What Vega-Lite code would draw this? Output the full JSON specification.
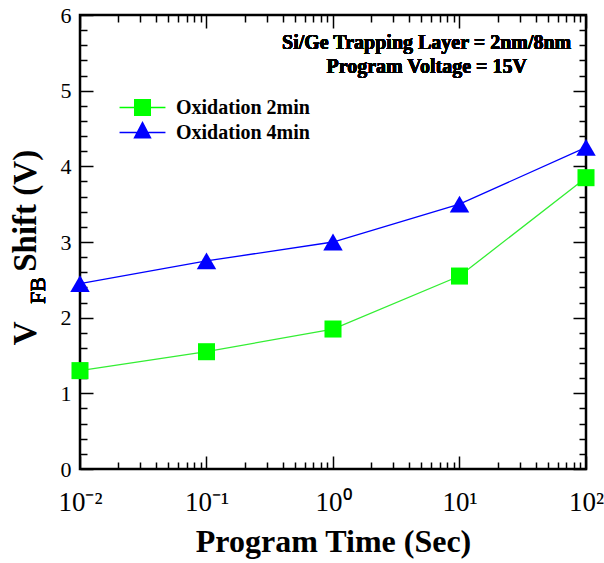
{
  "$schema": "https://vega.github.io/schema/vega-lite/v6.json",
  "autosize": {"type": "none"},
  "padding": {"left": 80, "top": 15, "right": 18, "bottom": 94},
  "width": 506,
  "height": 454,
  "background": "white",
  "config": {
    "view": {"stroke": "black", "strokeWidth": 2.5},
    "axis": {"grid": false, "domain": false, "tickColor": "black", "tickWidth": 1.5, "labelFont": "Liberation Serif", "titleFont": "Liberation Serif", "labelColor": "black", "titleColor": "black", "labelFlush": false, "labelOverlap": false},
    "text": {"font": "Liberation Serif"}
  },
  "data": {"values": [
    {"time": 0.01, "shift": 1.3, "series": "Oxidation 2min"},
    {"time": 0.1, "shift": 1.55, "series": "Oxidation 2min"},
    {"time": 1, "shift": 1.85, "series": "Oxidation 2min"},
    {"time": 10, "shift": 2.55, "series": "Oxidation 2min"},
    {"time": 100, "shift": 3.85, "series": "Oxidation 2min"},
    {"time": 0.01, "shift": 2.45, "series": "Oxidation 4min"},
    {"time": 0.1, "shift": 2.75, "series": "Oxidation 4min"},
    {"time": 1, "shift": 3.0, "series": "Oxidation 4min"},
    {"time": 10, "shift": 3.5, "series": "Oxidation 4min"},
    {"time": 100, "shift": 4.25, "series": "Oxidation 4min"}
  ]},
  "layer": [
    {
      "transform": [{"filter": "datum.series === 'Oxidation 2min'"}],
      "mark": {"type": "line", "color": "#33ee33", "strokeWidth": 1.3},
      "encoding": {
        "x": {"field": "time", "type": "quantitative", "scale": {"type": "log", "domain": [0.01, 100], "nice": false},
          "axis": {"orient": "bottom", "values": [0.01, 0.1, 1, 10, 100], "tickSize": -13, "labelFont": "Liberation Serif", "labelFontSize": 27, "labelPadding": 33, "labelFlush": false,
            "labelExpr": "datum.value < 0.05 ? '10⁻²' : datum.value < 0.5 ? '10⁻¹' : datum.value < 5 ? '10⁰' : datum.value < 50 ? '10¹' : '10²'",
            "title": "Program Time (Sec)", "titleFont": "Liberation Serif", "titleFontSize": 32, "titleFontWeight": "bold", "titlePadding": 11}},
        "y": {"field": "shift", "type": "quantitative", "scale": {"domain": [0, 6], "nice": false, "zero": true},
          "axis": {"orient": "left", "values": [0, 1, 2, 3, 4, 5, 6], "tickSize": -13, "labelFont": "Liberation Serif", "labelFontSize": 22, "labelPadding": 22,
            "title": "V\u00a0\u00a0\u00a0\u00a0\u00a0\u00a0Shift (V)", "titleFont": "Liberation Serif", "titleFontSize": 33, "titleFontWeight": "bold", "titlePadding": 18, "titleY": 232}}
      }
    },
    {
      "transform": [{"filter": "datum.series === 'Oxidation 2min'"}],
      "mark": {"type": "point", "shape": "square", "filled": true, "color": "#00ff00", "size": 290, "opacity": 1},
      "encoding": {
        "x": {"field": "time", "type": "quantitative",
          "axis": {"orient": "bottom", "values": [0.02, 0.03, 0.04, 0.05, 0.06, 0.07, 0.08, 0.09, 0.2, 0.3, 0.4, 0.5, 0.6, 0.7, 0.8, 0.9, 2, 3, 4, 5, 6, 7, 8, 9, 20, 30, 40, 50, 60, 70, 80, 90], "tickSize": -7, "labels": false, "title": null}},
        "y": {"field": "shift", "type": "quantitative",
          "axis": {"orient": "left", "values": [0.2, 0.4, 0.6, 0.8, 1.2, 1.4, 1.6, 1.8, 2.2, 2.4, 2.6, 2.8, 3.2, 3.4, 3.6, 3.8, 4.2, 4.4, 4.6, 4.8, 5.2, 5.4, 5.6, 5.8], "tickSize": -7, "labels": false, "title": null}}
      }
    },
    {
      "transform": [{"filter": "datum.series === 'Oxidation 4min'"}],
      "mark": {"type": "line", "color": "#0000ff", "strokeWidth": 1.3},
      "encoding": {
        "x": {"field": "time", "type": "quantitative",
          "axis": {"orient": "top", "values": [0.01, 0.1, 1, 10, 100], "tickSize": -13, "labels": false, "title": null}},
        "y": {"field": "shift", "type": "quantitative",
          "axis": {"orient": "right", "values": [0, 1, 2, 3, 4, 5, 6], "tickSize": -13, "labels": false, "title": null}}
      }
    },
    {
      "transform": [{"filter": "datum.series === 'Oxidation 4min'"}],
      "mark": {"type": "point", "shape": "triangle-up", "filled": true, "color": "#0000ff", "size": 380, "opacity": 1},
      "encoding": {
        "x": {"field": "time", "type": "quantitative",
          "axis": {"orient": "top", "values": [0.02, 0.03, 0.04, 0.05, 0.06, 0.07, 0.08, 0.09, 0.2, 0.3, 0.4, 0.5, 0.6, 0.7, 0.8, 0.9, 2, 3, 4, 5, 6, 7, 8, 9, 20, 30, 40, 50, 60, 70, 80, 90], "tickSize": -7, "labels": false, "title": null}},
        "y": {"field": "shift", "type": "quantitative",
          "axis": {"orient": "right", "values": [0.2, 0.4, 0.6, 0.8, 1.2, 1.4, 1.6, 1.8, 2.2, 2.4, 2.6, 2.8, 3.2, 3.4, 3.6, 3.8, 4.2, 4.4, 4.6, 4.8, 5.2, 5.4, 5.6, 5.8], "tickSize": -7, "labels": false, "title": null}}
      }
    },
    {
      "mark": {"type": "point", "filled": true, "opacity": 0},
      "encoding": {
        "x": {"field": "time", "type": "quantitative", "axis": null},
        "y": {"field": "shift", "type": "quantitative", "axis": null},
        "color": {"field": "series", "type": "nominal", "scale": {"domain": ["Oxidation 2min", "Oxidation 4min"], "range": ["#00ff00", "#0000ff"]},
          "legend": {"orient": "none", "legendX": 49, "legendY": 79, "title": null, "symbolSize": 729, "symbolOpacity": 1, "symbolStrokeWidth": 0,
            "labelFont": "Liberation Serif", "labelFontWeight": "bold", "labelFontSize": 20, "labelColor": "black", "labelOffset": 20, "padding": 0, "rowPadding": 1}},
        "shape": {"field": "series", "type": "nominal", "scale": {"domain": ["Oxidation 2min", "Oxidation 4min"],
          "range": ["M-1.7,-0.056H1.7V0.056H-1.7Z M-0.63,-0.63H0.63V0.63H-0.63Z", "M-1.7,-0.056H1.7V0.056H-1.7Z M0,-0.86L0.68,0.44H-0.68Z"]},
          "legend": {"orient": "none", "legendX": 49, "legendY": 79, "title": null, "symbolSize": 729, "symbolOpacity": 1, "symbolStrokeWidth": 0,
            "labelFont": "Liberation Serif", "labelFontWeight": "bold", "labelFontSize": 20, "labelColor": "black", "labelOffset": 20, "padding": 0, "rowPadding": 1}}
      }
    },
    {
      "mark": {"type": "text", "fontSize": 20, "fontWeight": "bold", "align": "center", "baseline": "middle", "lineHeight": 24, "color": "black", "font": "Liberation Serif",
        "text": ["Si/Ge Trapping Layer = 2nm/8nm", "Program Voltage = 15V"]},
      "encoding": {
        "x": {"datum": 5.5, "type": "quantitative", "axis": null},
        "y": {"datum": 5.63, "type": "quantitative", "axis": null}
      }
    },
    {
      "mark": {"type": "text", "fontSize": 22, "fontWeight": "normal", "align": "center", "baseline": "middle", "angle": 270, "color": "black", "font": "Liberation Serif", "text": "FB"},
      "encoding": {
        "x": {"datum": 0.00466, "type": "quantitative", "axis": null},
        "y": {"datum": 2.36, "type": "quantitative", "axis": null}
      }
    }
  ],
  "resolve": {"axis": {"x": "independent", "y": "independent"}}
}
